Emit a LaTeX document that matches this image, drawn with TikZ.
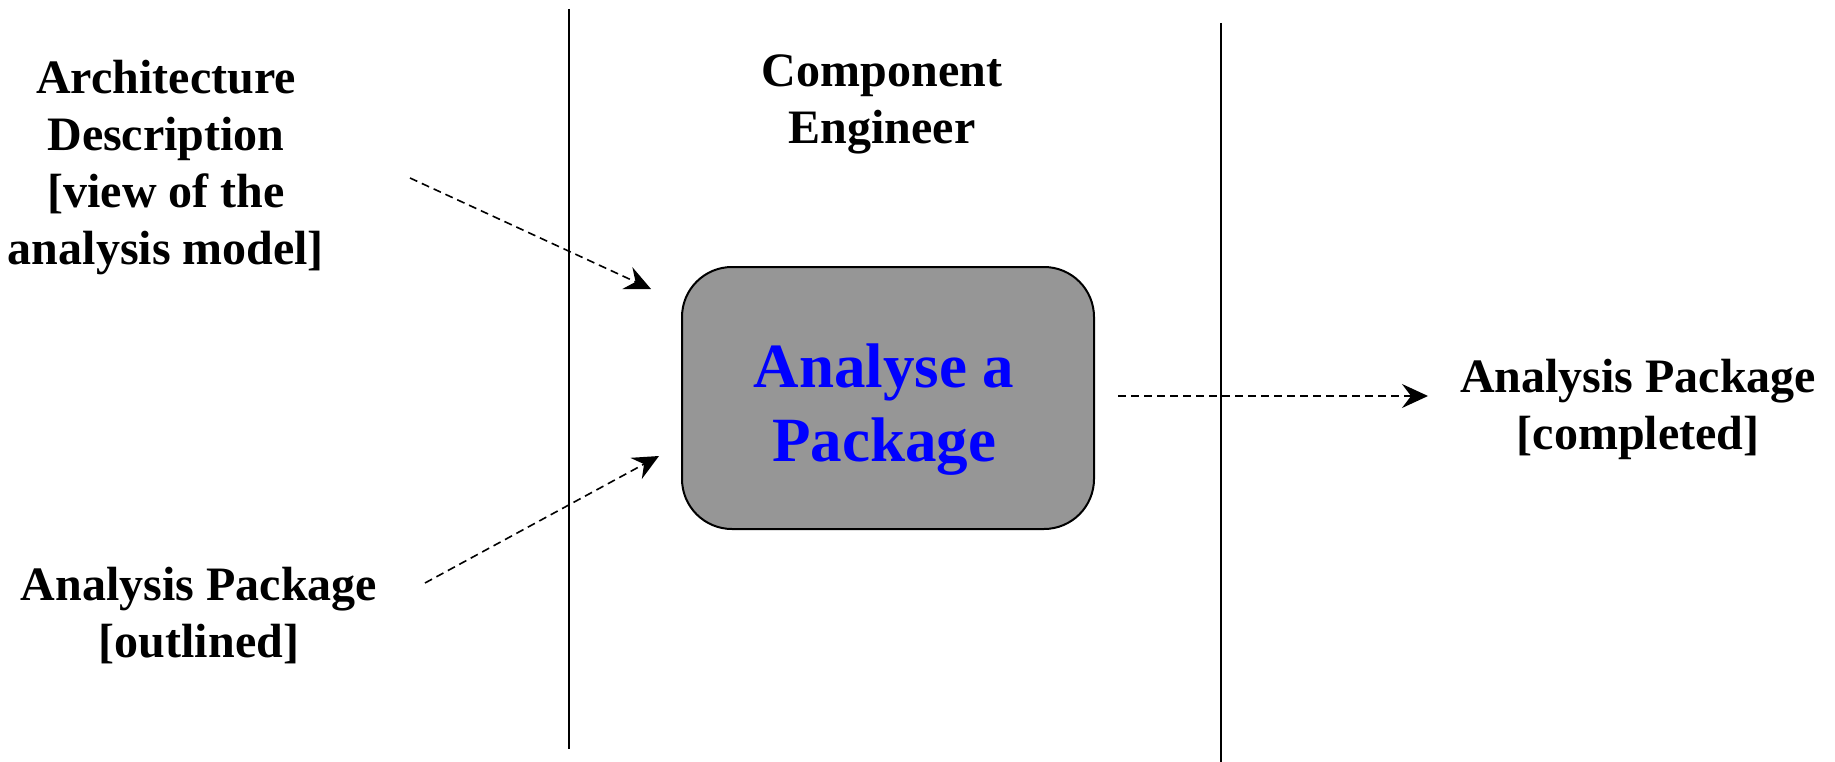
\documentclass[tikz,border=0pt]{standalone}
\usepackage{fontspec}
\setmainfont{Liberation Serif}
\usetikzlibrary{arrows.meta}
\definecolor{boxgray}{RGB}{150,150,150}
\definecolor{textblue}{RGB}{0,0,255}
\begin{document}
\begin{tikzpicture}[x=1pt,y=-1pt,
  lbl/.style={align=center,font=\bfseries\fontsize{48}{57}\selectfont,inner sep=0pt},
  actbox/.style={draw,line width=2pt,fill=boxgray,rounded corners=50pt,minimum width=412pt,minimum height=262pt},
  acttext/.style={align=center,text=textblue,inner sep=0pt,font=\bfseries\fontsize{63}{74}\selectfont},
  flow/.style={line width=1.6pt,dash pattern=on 8pt off 5pt,-{Stealth[length=26pt,width=24pt,inset=9pt]}},
  lane/.style={line width=2pt}]
\useasboundingbox (0,0) rectangle (1835,762);
% swimlane lines
\draw[lane] (569,9) -- (569,749);
\draw[lane] (1221,23) -- (1221,762);
% labels
\node[lbl] (arch) at (166,168) {Architecture\\Description\\{[view of the}\\analysis model]};
\node[lbl] (role) at (882,104) {Component\\Engineer};
\node[lbl] (outl) at (199,616) {Analysis Package\\{[outlined]}};
\node[lbl] (comp) at (1638,409) {Analysis Package\\{[completed]}};
% activity
\node[actbox] (act) at (888,398) {};
\node[acttext] (acttxt) at ([xshift=-4pt,yshift=-12pt]act.center) {Analyse a\\Package};
% connector ends
\coordinate (a1s) at (410,178);
\coordinate (a1e) at (651,289);
\coordinate (a2s) at (425,583);
\coordinate (a2e) at (659,456);
\coordinate (a3s) at (1118,396);
\coordinate (a3e) at (1428,396);
\draw[flow] (a1s) -- (a1e);
\draw[flow] (a2s) -- (a2e);
\draw[flow] (a3s) -- (a3e);
\end{tikzpicture}
\end{document}
